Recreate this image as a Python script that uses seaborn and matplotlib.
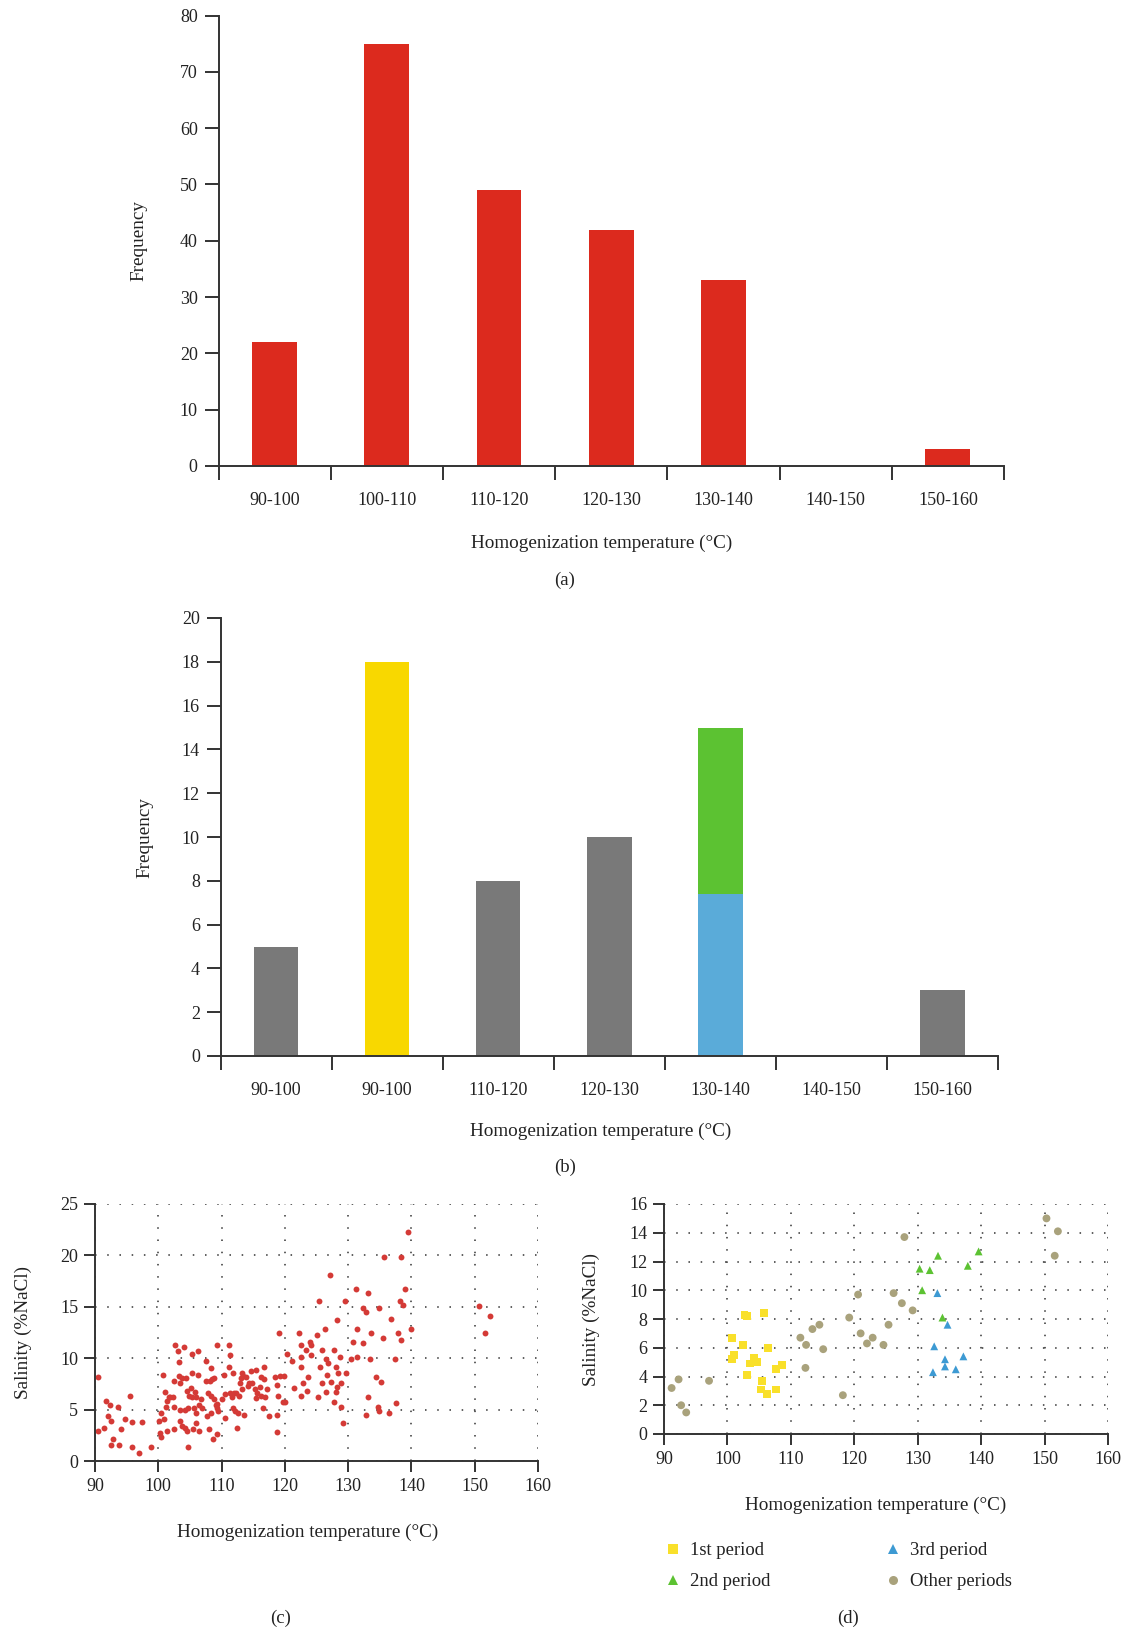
import numpy as np
import pandas as pd
import matplotlib
matplotlib.use("Agg")
import matplotlib.pyplot as plt
import seaborn as sns
from matplotlib.lines import Line2D
from matplotlib.ticker import FixedLocator

sns.set_theme(style="white")
plt.rcParams['font.family'] = ['Liberation Serif', 'DejaVu Serif']

# ---------------- data ----------------
a_labels = ["90-100", "100-110", "110-120", "120-130", "130-140", "140-150", "150-160"]
a_freq = [22, 75, 49, 42, 33, 0, 3]

b_labels = ["90-100", "90-100", "110-120", "120-130", "130-140", "140-150", "150-160"]
b_total = [5, 18, 8, 10, 15, 0, 3]
b_group = ["other", "1st", "other", "other", "2nd", "other", "other"]
b_third = [0, 0, 0, 0, 7.4, 0, 0]

c_temp = [90.4, 90.4, 91.5, 91.7, 92.1, 92.4, 92.6, 92.9, 92.6, 93.6, 93.8, 94.1, 94.8, 95.5, 95.9, 95.9, 97.0, 97.5, 98.8,
          100.1, 100.2, 100.4, 100.5, 100.7, 100.9, 101.1, 101.2, 101.4, 101.4, 101.7, 101.9, 102.4, 102.5, 102.5, 102.5,
          102.7, 103.1, 103.3, 103.3, 103.4, 103.5, 103.5, 103.7, 103.8, 104.1, 104.2, 104.3, 104.4, 104.6, 104.6, 104.7,
          104.7, 104.8, 105.1, 105.3, 105.4, 105.4, 105.5, 105.6, 105.8, 105.9, 105.9, 106.0, 106.2, 106.3, 106.4, 106.5,
          106.7, 106.9, 107.5, 107.5, 107.7, 107.9, 108.0, 108.1, 108.3, 108.4, 108.4, 108.5, 108.6, 108.8, 108.8, 109.1,
          109.2, 109.2, 109.2, 109.3, 109.5,
          110.1, 110.4, 110.5, 110.6, 111.1, 111.1, 111.4, 111.4, 111.7, 111.8, 111.8, 112.0, 112.2, 112.3, 112.5, 112.6,
          112.7, 112.9, 113.0, 113.3, 113.3, 113.4, 113.6, 113.8, 114.1, 114.3, 114.7, 114.8, 115.3, 115.4, 115.4, 115.6,
          116.0, 116.2, 116.3, 116.5, 116.7, 116.7, 116.9, 117.1, 117.5, 118.4, 118.7, 118.8, 118.8, 118.9, 119.1, 119.3,
          119.7, 119.8, 120.0,
          120.4, 121.2, 121.5, 122.3, 122.5, 122.5, 122.6, 122.6, 122.8, 123.3, 123.5, 123.6, 123.9, 124.1, 124.2, 125.0,
          125.2, 125.4,
          127.1, 126.3, 128.3, 125.8, 127.8, 126.5, 126.8, 128.7, 125.6, 128.1, 126.7, 128.4, 129.6, 127.3, 125.8, 128.9,
          128.3, 126.5, 128.1, 127.8, 128.9, 129.2, 130.4, 129.5, 131.2, 131.4, 131.4, 130.8, 132.4, 132.9, 133.1, 132.4,
          133.6, 133.5, 134.4, 134.8, 135.2, 135.5, 135.7, 136.7, 137.4, 137.8, 138.2, 138.3, 138.4, 138.6, 139.0, 139.5,
          140.0, 133.1, 134.7, 134.8, 132.9, 136.4, 137.6, 150.6, 152.4, 151.6]
c_sal = [8.2, 2.9, 3.2, 5.8, 4.4, 5.4, 3.9, 2.1, 1.6, 5.3, 1.6, 3.1, 4.1, 6.3, 1.4, 3.8, 0.8, 3.8, 1.4,
         3.9, 2.7, 2.3, 4.7, 8.4, 4.1, 6.7, 5.3, 2.9, 5.8, 6.2, 6.2, 6.2, 7.8, 5.3, 3.1,
         11.3, 10.7, 9.6, 8.3, 5.0, 7.6, 3.9, 8.1, 3.4, 11.1, 3.2, 5.0, 8.1, 6.8, 2.9, 1.4,
         5.2, 6.3, 7.1, 10.4, 8.6, 6.2, 3.1, 5.2, 6.7, 3.7, 4.7, 6.2, 8.4, 10.7, 5.4, 2.9,
         6.0, 5.2, 9.7, 7.8, 4.4, 6.6, 3.1, 7.8, 6.3, 9.0, 4.7, 8.0, 2.1, 6.0, 8.1, 5.4,
         11.3, 2.6, 5.5, 5.2, 4.9,
         6.0, 8.4, 4.2, 6.5, 11.3, 9.1, 10.3, 6.6, 6.2, 8.6, 5.2, 6.6, 4.9, 6.6, 3.2, 4.7,
         6.3, 7.6, 8.1, 7.0, 8.6, 8.3, 4.5, 8.2, 7.3, 7.6, 8.8, 7.6, 7.0, 8.9, 6.1, 6.6,
         7.2, 6.3, 8.2, 5.2, 9.1, 8.0, 6.2, 7.0, 4.4, 8.2, 7.4, 4.5, 2.8, 6.3, 12.5, 8.3,
         5.7, 8.3, 5.7,
         10.4, 9.7, 7.1, 12.5, 10.1, 9.1, 6.3, 11.3, 7.6, 10.8, 6.8, 8.2, 11.6, 10.3, 11.3, 12.3,
         6.2, 15.6,
         18.1, 12.8, 13.7, 10.8, 10.8, 9.9, 9.5, 10.1, 9.1, 9.1, 8.4, 8.6, 8.6, 7.7, 7.6, 7.6,
         7.2, 6.7, 6.7, 5.7, 5.3, 3.7, 9.9, 15.6, 16.7, 12.8, 10.1, 11.6, 14.9, 14.5, 16.3, 11.5,
         12.5, 9.9, 8.2, 14.9, 7.7, 12.0, 19.8, 13.8, 9.9, 12.5, 15.6, 19.8, 11.8, 15.2, 16.7, 22.3,
         12.8, 6.2, 5.3, 4.9, 4.5, 4.7, 5.6, 15.1, 14.1, 12.5]

d1_temp = [100.7, 101.1, 100.7, 102.5, 102.7, 103.1, 103.1, 103.6, 104.2, 104.7, 105.8, 105.5, 105.3, 106.3, 106.4, 107.7, 108.6, 107.7]
d1_sal = [6.7, 5.5, 5.2, 6.2, 8.3, 8.2, 4.1, 4.9, 5.3, 5.0, 8.4, 3.7, 3.1, 2.8, 6.0, 4.5, 4.8, 3.1]
d2_temp = [130.3, 131.9, 130.7, 133.2, 133.9, 137.9, 139.6]
d2_sal = [11.5, 11.4, 10.0, 12.4, 8.1, 11.7, 12.7]
d3_temp = [133.1, 134.7, 132.6, 134.3, 134.3, 136.0, 137.2, 132.4]
d3_sal = [9.8, 7.6, 6.1, 5.2, 4.7, 4.5, 5.4, 4.3]
do_temp = [91.2, 92.3, 92.7, 93.5, 97.1, 111.5, 112.4, 112.3, 113.4, 114.5, 115.1, 118.2, 119.2, 120.6, 121.0, 122.0,
           122.9, 124.6, 125.4, 126.2, 127.5, 127.9, 129.2, 150.3, 152.1, 151.6]
do_sal = [3.2, 3.8, 2.0, 1.5, 3.7, 6.7, 6.2, 4.6, 7.3, 7.6, 5.9, 2.7, 8.1, 9.7, 7.0, 6.3,
          6.7, 6.2, 7.6, 9.8, 9.1, 13.7, 8.6, 15.0, 14.1, 12.4]

period_names = ["1st period", "2nd period", "3rd period", "Other periods"]

# ---------------- style ----------------
RED = "#dc2a1e"
GRAY = "#797979"
YELLOW = "#f8d800"
GREEN = "#5cc232"
BLUE = "#5aabd9"
TAN = "#a9a27c"
SPINE = "#333333"
TXT = "#222222"
TICK_FS = 13
LAB_FS = 13.8

fig = plt.figure(figsize=(11.26, 16.32), dpi=100)
W, H = 1126.0, 1632.0


def add_axes(l, r, t, b):
    return fig.add_axes([l / W, 1 - b / H, (r - l) / W, (b - t) / H])


def style_bar_axis(ax, ymax, ystep, labels):
    for s in ["top", "right"]:
        ax.spines[s].set_visible(False)
    for s in ["left", "bottom"]:
        ax.spines[s].set_color(SPINE)
        ax.spines[s].set_linewidth(1.4)
    ax.set_xlim(-0.5, 6.5)
    ax.set_ylim(0, ymax)
    ax.set_yticks(np.arange(0, ymax + 0.1, ystep))
    ax.set_xticks(range(7))
    ax.set_xticklabels(labels)
    ax.xaxis.set_minor_locator(FixedLocator(np.arange(-0.5, 7, 1.0)))
    ax.tick_params(axis="x", which="major", length=0, pad=19, labelsize=TICK_FS, labelcolor=TXT)
    ax.tick_params(axis="x", which="minor", length=10, width=1.4, color=SPINE, direction="out", bottom=True)
    ax.tick_params(axis="y", which="major", length=10, width=1.4, color=SPINE, direction="out", left=True,
                   labelsize=TICK_FS, labelcolor=TXT, pad=5)
    ax.set_xlabel("")
    ax.set_ylabel("")


# ---------------- (a) ----------------
axa = add_axes(218.5, 1004, 15.6, 466)
dfa = pd.DataFrame({"idx": range(7), "freq": a_freq})
sns.barplot(data=dfa, x="idx", y="freq", color=RED, width=0.4, saturation=1, linewidth=0, ax=axa)
style_bar_axis(axa, 80, 10, a_labels)
axa.set_ylabel("Frequency", fontsize=LAB_FS, color=TXT)
axa.yaxis.set_label_coords(-0.090, 0.5)
axa.set_xlabel("Homogenization temperature (°C)", fontsize=LAB_FS, color=TXT)
axa.xaxis.set_label_coords(0.488, -0.152)
fig.text(565 / W, 1 - 580 / H, "(a)", ha="center", va="center", fontsize=13.5, color=TXT)

# ---------------- (b) ----------------
axb = add_axes(220.6, 998, 618, 1056)
color_map = {"other": GRAY, "1st": YELLOW, "2nd": GREEN}
dfb = pd.DataFrame({"idx": range(7), "total": b_total, "third": b_third})
sns.barplot(data=dfb, x="idx", y="total", hue="idx",
            palette=[color_map[g] for g in b_group], width=0.4, saturation=1, linewidth=0,
            legend=False, ax=axb)
sns.barplot(data=dfb, x="idx", y="third", color=BLUE, width=0.4, saturation=1, linewidth=0, ax=axb)
style_bar_axis(axb, 20, 2, b_labels)
axb.set_ylabel("Frequency", fontsize=LAB_FS, color=TXT)
axb.yaxis.set_label_coords(-0.086, 0.5)
axb.set_xlabel("Homogenization temperature (°C)", fontsize=LAB_FS, color=TXT)
axb.xaxis.set_label_coords(0.489, -0.152)
fig.text(565 / W, 1 - 1167 / H, "(b)", ha="center", va="center", fontsize=13.5, color=TXT)


def style_scatter_axis(ax, ymax, ystep):
    for s in ["top", "right"]:
        ax.spines[s].set_visible(False)
    for s in ["left", "bottom"]:
        ax.spines[s].set_color(SPINE)
        ax.spines[s].set_linewidth(1.4)
    ax.set_xlim(90, 160)
    ax.set_ylim(0, ymax)
    ax.set_xticks(np.arange(90, 161, 10))
    ax.set_yticks(np.arange(0, ymax + 0.1, ystep))
    ax.grid(True, color="#333333", linestyle=(0, (1, 7)), linewidth=1.1)
    ax.tick_params(axis="both", length=8, width=1.4, color=SPINE, direction="out",
                   left=True, bottom=True, labelsize=TICK_FS, labelcolor=TXT, pad=4)
    ax.set_axisbelow(True)
    ax.set_xlabel("")
    ax.set_ylabel("")


# ---------------- (c) ----------------
axc = add_axes(95, 538, 1204, 1461)
dfc = pd.DataFrame({"temp": c_temp, "sal": c_sal})
sns.scatterplot(data=dfc, x="temp", y="sal", color="#d43a36", s=18, linewidth=0, ax=axc, clip_on=False)
style_scatter_axis(axc, 25, 5)
axc.set_ylabel("Salinity (%NaCl)", fontsize=LAB_FS, color=TXT)
axc.yaxis.set_label_coords(-0.143, 0.5)
axc.set_xlabel("Homogenization temperature (°C)", fontsize=LAB_FS, color=TXT)
axc.xaxis.set_label_coords(0.481, -0.245)
fig.text(281 / W, 1 - 1618 / H, "(c)", ha="center", va="center", fontsize=13.5, color=TXT)

# ---------------- (d) ----------------
axd = add_axes(664, 1108, 1204, 1434)
dfd = pd.concat([
    pd.DataFrame({"temp": d1_temp, "sal": d1_sal, "period": period_names[0]}),
    pd.DataFrame({"temp": d2_temp, "sal": d2_sal, "period": period_names[1]}),
    pd.DataFrame({"temp": d3_temp, "sal": d3_sal, "period": period_names[2]}),
    pd.DataFrame({"temp": do_temp, "sal": do_sal, "period": period_names[3]}),
], ignore_index=True)
pal = {period_names[0]: "#f9e02a", period_names[1]: GREEN, period_names[2]: "#3d9ad3", period_names[3]: TAN}
mk = {period_names[0]: "s", period_names[1]: "^", period_names[2]: "^", period_names[3]: "o"}
sns.scatterplot(data=dfd, x="temp", y="sal", hue="period", style="period", hue_order=period_names,
                style_order=period_names, palette=pal, markers=mk, s=32, linewidth=0,
                legend=False, ax=axd, clip_on=False)
style_scatter_axis(axd, 16, 2)
axd.set_ylabel("Salinity (%NaCl)", fontsize=LAB_FS, color=TXT)
axd.yaxis.set_label_coords(-0.144, 0.5)
axd.set_xlabel("Homogenization temperature (°C)", fontsize=LAB_FS, color=TXT)
axd.xaxis.set_label_coords(0.477, -0.274)

handles = [Line2D([], [], linestyle="none", marker=mk[p], color=pal[p], markersize=6.5, markeredgewidth=0)
           for p in period_names]
fig.legend(handles, period_names, loc="upper left", bbox_to_anchor=(654 / W, 1 - 1533 / H),
           ncol=2, frameon=False, fontsize=13.4, handlelength=1.0, handletextpad=0.45,
           columnspacing=6.05, labelspacing=0.75, borderpad=0, labelcolor=TXT)
fig.text(848 / W, 1 - 1618 / H, "(d)", ha="center", va="center", fontsize=13.5, color=TXT)

fig.savefig("out.png", dpi=100, facecolor="white")
